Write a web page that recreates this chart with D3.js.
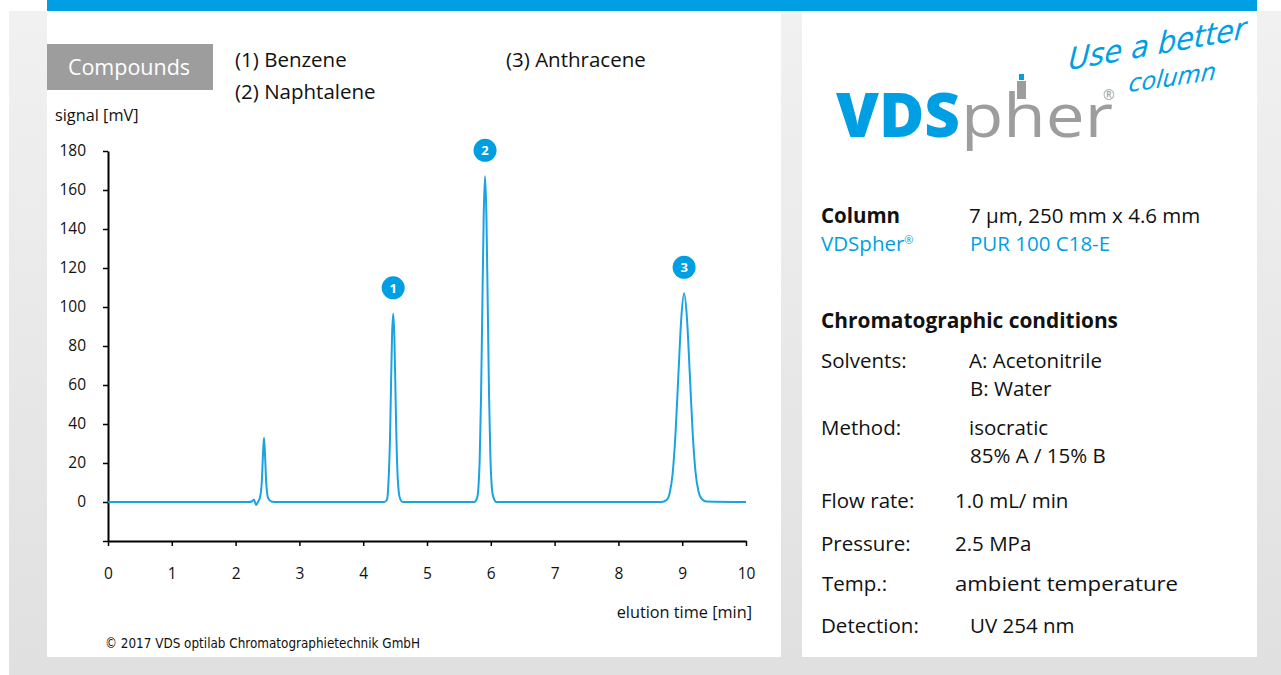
<!DOCTYPE html>
<html>
<head>
<meta charset="utf-8">
<script src="https://cdn.jsdelivr.net/npm/d3@7"></script>
<style>
  html, body { margin: 0; padding: 0; background: #fff; }
  svg { display: block; }
  text { font-family: "Open Sans", Lato, sans-serif; }
</style>
</head>
<body>
<div id="chart"></div>
<script>
// chromatogram trace: [time (min), signal (mV)]
var trace = [
  [0, 0], [2.2, 0], [2.26, 0.4], [2.29, 1.2], [2.32, -1.6], [2.35, 0], [2.38, 2],
  [2.41, 10], [2.43, 25], [2.445, 33], [2.46, 25], [2.48, 10], [2.51, 2], [2.56, 0.3], [2.65, 0],
  [4.33, 0], [4.37, 1], [4.385, 4], [4.40, 13], [4.42, 32], [4.435, 58], [4.452, 85], [4.47, 96.5],
  [4.488, 85], [4.505, 58], [4.522, 31], [4.54, 13], [4.558, 5], [4.58, 1.5], [4.62, 0],
  [5.74, 0], [5.784, 2], [5.805, 7], [5.826, 22], [5.847, 54], [5.868, 101], [5.889, 147], [5.91, 167],
  [5.931, 147], [5.952, 101], [5.973, 54], [5.994, 23], [6.015, 8], [6.04, 2.5], [6.09, 0],
  [8.67, 0], [8.76, 1.2], [8.805, 4.7], [8.85, 14.5], [8.895, 35], [8.94, 65], [8.985, 94], [9.03, 107],
  [9.075, 94], [9.12, 65], [9.165, 35], [9.21, 15], [9.255, 5.5], [9.30, 1.8], [9.38, 0.3], [10, 0]
]

// numbered peaks: [label, time, height]
var peaks = [ [1, 4.47, 96.5], [2, 5.91, 167], [3, 9.03, 107] ]

var xTicks = [ 0, 1, 2, 3, 4, 5, 6, 7, 8, 9, 10 ]
var yTicks = [ -20, 0, 20, 40, 60, 80, 100, 120, 140, 160, 180 ]

var compounds = [ '(1) Benzene', '(2) Naphtalene', '(3) Anthracene' ]

var conditions = [
  [ 'Solvents:', 'A: Acetonitrile' ],
  [ '', 'B: Water' ],
  [ 'Method:', 'isocratic' ],
  [ '', '85% A / 15% B' ],
  [ 'Flow rate:', '1.0 mL/ min' ],
  [ 'Pressure:', '2.5 MPa' ],
  [ 'Temp.:', 'ambient temperature' ],
  [ 'Detection:', 'UV 254 nm' ]
]

var blue = '#009fe3'
var lineBlue = '#1aa3e2'
var grey = '#9d9d9d'

var svg = d3.select('#chart').append('svg')
  .attr('width', 1281).attr('height', 675)

// background
var grad = svg.append('defs').append('linearGradient')
  .attr('id', 'bg').attr('x1', 0).attr('y1', 0).attr('x2', 0).attr('y2', 1)
grad.append('stop').attr('offset', '0%').attr('stop-color', '#f1f1f1')
grad.append('stop').attr('offset', '100%').attr('stop-color', '#e0e0e0')

svg.append('rect').attr('x', 9).attr('y', 11).attr('width', 1272).attr('height', 664).attr('fill', 'url(#bg)')
svg.append('rect').attr('x', 47).attr('y', 0).attr('width', 1210).attr('height', 11).attr('fill', blue)
svg.append('rect').attr('x', 47).attr('y', 11).attr('width', 734).attr('height', 646).attr('fill', '#fff')
svg.append('rect').attr('x', 802).attr('y', 11).attr('width', 455).attr('height', 646).attr('fill', '#fff')

// compounds header
svg.append('rect').attr('x', 47).attr('y', 44).attr('width', 166).attr('height', 46).attr('fill', grey)
svg.append('text').attr('x', 129).attr('y', 75).attr('text-anchor', 'middle')
  .attr('fill', '#fff').style('font-size', '21.5px').text('Compounds')

var compPos = [ [235, 67], [235, 99], [506, 67] ]
compounds.forEach(function (c, i) {
  svg.append('text').attr('x', compPos[i][0]).attr('y', compPos[i][1])
    .attr('fill', '#111').style('font-size', '20.5px').text(c)
})

// chart
var x = d3.scaleLinear().domain([0, 10]).range([108, 746])
var y = d3.scaleLinear().domain([-20, 180]).range([541, 151])

var yAxis = svg.append('g').attr('transform', 'translate(108,0)')
  .call(d3.axisLeft(y).tickValues(yTicks).tickSize(5).tickSizeOuter(0).tickPadding(17)
    .tickFormat(function (d) { return d < 0 ? '' : d }))
var xAxis = svg.append('g').attr('transform', 'translate(0,541)')
  .call(d3.axisBottom(x).tickValues(xTicks).tickSize(5).tickSizeOuter(0).tickPadding(22))

;[yAxis, xAxis].forEach(function (a) {
  a.select('.domain').attr('stroke', '#000').attr('stroke-width', 2)
  a.selectAll('.tick line').attr('stroke', '#000').attr('stroke-width', 1.5)
  a.selectAll('.tick text').attr('fill', '#111').style('font-size', '15.5px')
    .style('font-family', '"Open Sans", sans-serif')
})

svg.append('text').attr('x', 55).attr('y', 121).attr('fill', '#111')
  .style('font-size', '16.3px').text('signal [mV]')
svg.append('text').attr('x', 752).attr('y', 618).attr('text-anchor', 'end').attr('fill', '#111')
  .style('font-size', '16.3px').text('elution time [min]')
svg.append('text').attr('x', 105).attr('y', 648).attr('fill', '#111')
  .attr('textLength', 315).attr('lengthAdjust', 'spacingAndGlyphs')
  .style('font-size', '14.5px').style('font-family', '"Liberation Sans Narrow", "DejaVu Sans Condensed", sans-serif')
  .text('© 2017 VDS optilab Chromatographietechnik GmbH')

var line = d3.line()
  .x(function (d) { return x(d[0]) })
  .y(function (d) { return y(d[1]) })
  .curve(d3.curveMonotoneX)

svg.append('path').datum(trace)
  .attr('d', line).attr('fill', 'none')
  .attr('stroke', lineBlue).attr('stroke-width', 2)

var marks = svg.selectAll('g.peak').data(peaks).enter().append('g').attr('class', 'peak')
  .attr('transform', function (d) { return 'translate(' + x(d[1]) + ',' + (y(d[2]) - 26) + ')' })
marks.append('circle').attr('r', 11.5).attr('fill', blue)
marks.append('text').attr('text-anchor', 'middle').attr('dy', '0.36em')
  .attr('fill', '#fff').style('font-size', '13px').style('font-weight', 700)
  .text(function (d) { return d[0] })

// logo
var logo = svg.append('g')
logo.append('text').attr('x', 836).attr('y', 137)
  .attr('fill', blue).attr('textLength', 124).attr('lengthAdjust', 'spacingAndGlyphs')
  .style('font-family', '"Open Sans", sans-serif').style('font-weight', 800).style('font-size', '62px')
  .text('VDS')
logo.append('text').attr('x', 961).attr('y', 137)
  .attr('fill', grey).attr('textLength', 152).attr('lengthAdjust', 'spacingAndGlyphs')
  .style('font-family', '"Open Sans", sans-serif').style('font-weight', 500).style('font-size', '60px')
  .text('pher')
logo.append('rect').attr('x', 1017).attr('y', 81).attr('width', 9).attr('height', 18).attr('fill', grey)
logo.append('rect').attr('x', 1019).attr('y', 74).attr('width', 5).attr('height', 6).attr('fill', blue)
logo.append('text').attr('x', 1103).attr('y', 100).attr('fill', grey)
  .style('font-size', '14px').text('®')
logo.append('text').attr('transform', 'translate(1068,70) rotate(-10) skewX(-14)')
  .attr('fill', blue).attr('textLength', 180).attr('lengthAdjust', 'spacingAndGlyphs')
  .style('font-family', '"DejaVu Sans", sans-serif').style('font-style', 'italic').style('font-size', '30px')
  .text('Use a better')
logo.append('text').attr('transform', 'translate(1128,92) rotate(-8) skewX(-14)')
  .attr('fill', blue).attr('textLength', 88).attr('lengthAdjust', 'spacingAndGlyphs')
  .style('font-family', '"DejaVu Sans", sans-serif').style('font-style', 'italic').style('font-size', '24px')
  .text('column')

// column info
var info = svg.append('g').style('font-size', '20.5px')
info.append('text').attr('x', 821).attr('y', 223).attr('fill', '#111').style('font-weight', 700).text('Column')
info.append('text').attr('x', 969).attr('y', 223).attr('fill', '#111').text('7 µm, 250 mm x 4.6 mm')
var vds = info.append('text').attr('x', 821).attr('y', 251).attr('fill', blue).text('VDSpher')
vds.append('tspan').attr('dy', -7).style('font-size', '11px').text('®')
info.append('text').attr('x', 970).attr('y', 251).attr('fill', blue).text('PUR 100 C18-E')
info.append('text').attr('x', 821).attr('y', 328).attr('fill', '#111').style('font-weight', 700)
  .attr('textLength', 297).attr('lengthAdjust', 'spacingAndGlyphs')
  .text('Chromatographic conditions')

var rowY = [ 368, 396, 435, 463, 508, 551, 591, 633 ]
var valX = [ 969, 970, 969, 970, 955, 955, 955, 970 ]
conditions.forEach(function (r, i) {
  info.append('text').attr('x', i === 6 ? 822 : 821).attr('y', rowY[i]).attr('fill', '#111').text(r[0])
  var v = info.append('text').attr('x', valX[i]).attr('y', rowY[i]).attr('fill', '#111').text(r[1])
  if (i === 6) v.attr('textLength', 223).attr('lengthAdjust', 'spacingAndGlyphs')
})
</script>
</body>
</html>
